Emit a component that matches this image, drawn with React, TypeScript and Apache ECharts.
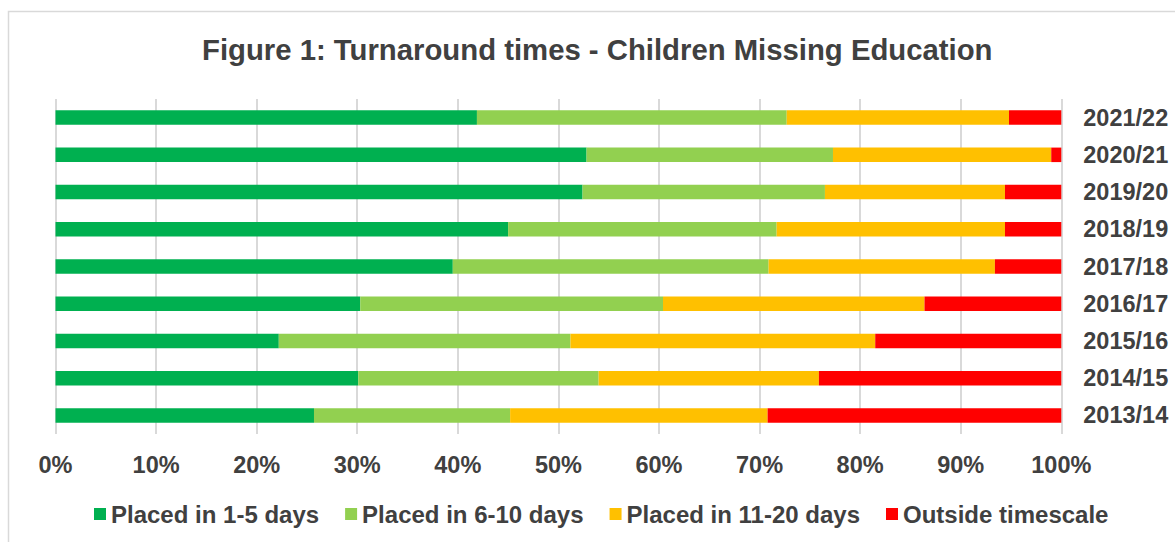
import React, { useEffect, useRef } from "react";
import * as echarts from "echarts";

const categories = ["2013/14", "2014/15", "2015/16", "2016/17", "2017/18", "2018/19", "2019/20", "2020/21", "2021/22"];
const placed1to5 = [25.7, 30.1, 22.2, 30.3, 39.5, 45.0, 52.4, 52.8, 41.9];
const placed6to10 = [19.5, 23.9, 29.0, 30.1, 31.4, 26.7, 24.1, 24.5, 30.8];
const placed11to20 = [25.6, 21.9, 30.3, 26.0, 22.5, 22.7, 17.9, 21.7, 22.1];
const outsideTimescale = [29.2, 24.1, 18.5, 13.6, 6.6, 5.6, 5.6, 1.0, 5.2];

const seriesNames = ["Placed in 1-5 days", "Placed in 6-10 days", "Placed in 11-20 days", "Outside timescale"];
const seriesColors = ["#00B050", "#92D050", "#FFC000", "#FF0000"];
const titleText = "Figure 1: Turnaround times - Children Missing Education";

const FONT = "'Liberation Sans', Arial, sans-serif";
const TEXT = "#404040";

export default function App() {
  const ref = useRef<HTMLDivElement>(null);
  useEffect(() => {
    if (!ref.current) return;
    const chart = echarts.init(ref.current, null, { renderer: "svg" });
    const data = [placed1to5, placed6to10, placed11to20, outsideTimescale];
    chart.setOption({
      animation: false,
      backgroundColor: "#ffffff",
      textStyle: { fontFamily: FONT },
      title: {
        text: titleText,
        left: 202,
        top: 35,
        padding: 0,
        textStyle: { fontFamily: FONT, fontSize: 29.3, fontWeight: "bold", color: TEXT },
      },
      graphic: [
        {
          type: "rect",
          shape: { x: 8.5, y: 11.5, width: 1300, height: 700 },
          style: { fill: "none", stroke: "#d9d9d9", lineWidth: 1.5 },
          silent: true,
        },
      ],
      legend: {
        left: 94,
        top: 502,
        padding: 0,
        itemWidth: 12,
        itemHeight: 12,
        itemGap: 26,
        icon: "rect",
        textStyle: { fontFamily: FONT, fontSize: 24, fontWeight: "bold", color: TEXT },
        data: seriesNames,
      },
      grid: { left: 55.5, right: 113.7, top: 99, bottom: 108, containLabel: false },
      xAxis: {
        type: "value",
        min: 0,
        max: 100,
        interval: 10,
        axisLine: { show: false },
        axisTick: { show: false },
        splitLine: { show: true, lineStyle: { color: "#d9d9d9", width: 2 } },
        axisLabel: {
          formatter: "{value}%",
          margin: 19,
          fontFamily: FONT,
          fontSize: 23.5,
          fontWeight: "bold",
          color: TEXT,
        },
      },
      yAxis: {
        type: "category",
        data: categories,
        position: "right",
        axisLine: { show: false },
        axisTick: { show: false },
        splitLine: { show: false },
        axisLabel: {
          margin: 22,
          fontFamily: FONT,
          fontSize: 23.5,
          fontWeight: "bold",
          color: TEXT,
        },
      },
      series: seriesNames.map((name, i) => ({
        name,
        type: "bar",
        stack: "total",
        barWidth: "39%",
        itemStyle: { color: seriesColors[i] },
        data: data[i],
      })),
    });
    return () => chart.dispose();
  }, []);
  return (
    <div
      ref={ref}
      style={{ position: "absolute", left: 0, top: 0, width: 1175, height: 542 }}
    />
  );
}
